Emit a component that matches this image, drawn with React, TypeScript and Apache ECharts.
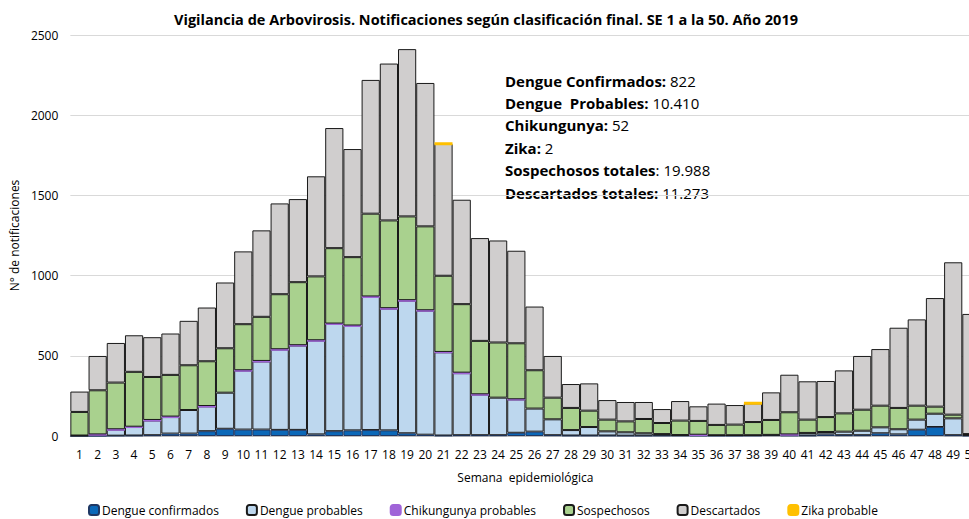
import React, { useEffect, useRef } from "react";
import * as echarts from "echarts";

const weeks = Array.from({ length: 50 }, (_, i) => String(i + 1));

const dengueConfirmados = [
  0, 0, 2, 3, 5, 15, 15, 30, 45, 40,
  40, 38, 38, 10, 30, 35, 37, 35, 17, 8,
  3, 5, 5, 5, 20, 27, 5, 3, 3, 3,
  2, 2, 3, 3, 2, 2, 2, 3, 5, 3,
  3, 10, 5, 5, 17, 10, 39, 56, 5, 2,
];

const dengueProbables = [
  3, 8, 38, 53, 92, 103, 147, 155, 225, 368,
  425, 501, 526, 585, 669, 651, 830, 759, 827, 773,
  519, 387, 253, 234, 208, 144, 99, 34, 53, 26,
  21, 15, 9, 3, 5, 3, 3, 2, 2, 6,
  16, 15, 22, 28, 37, 32, 63, 83, 105, 5,
];

const chikungunya = [
  null, 2, 2, 2, 3, 3, null, 2, null, 2,
  3, 2, 2, 2, 2, 3, 3, 3, 3, 3,
  2, 3, 2, null, 1, null, null, null, null, null,
  null, null, null, null, 1, null, null, null, null, 1,
  null, null, null, null, null, null, null, null, null, null,
];

const sospechosos = [
  147, 275, 291, 342, 268, 260, 279, 279, 277, 287,
  275, 343, 393, 398, 470, 426, 516, 547, 522, 523,
  475, 427, 333, 344, 349, 239, 135, 138, 102, 73,
  68, 89, 69, 90, 86, 64, 66, 82, 93, 138,
  83, 93, 114, 131, 135, 133, 87, 44, 23, 5,
];

const descartados = [
  127, 214, 247, 228, 248, 258, 277, 335, 410, 454,
  539, 566, 518, 624, 749, 674, 834, 978, 1043, 894,
  822, 651, 641, 636, 577, 397, 260, 149, 170, 122,
  121, 106, 87, 122, 91, 133, 122, 117, 172, 234,
  239, 225, 268, 335, 353, 500, 538, 677, 950, 749,
];

const zika = weeks.map((w) => (w === "21" || w === "38" ? 1 : null));

const yTicks = [0, 500, 1000, 1500, 2000, 2500];

const summary = [
  ["Dengue Confirmados:", " 822"],
  ["Dengue  Probables:", " 10.410"],
  ["Chikungunya:", " 52"],
  ["Zika:", " 2"],
  ["Sospechosos totales", ": 19.988"],
  ["Descartados totales:", " 11.273"],
];

const FONT = "'Open Sans', 'Noto Sans', sans-serif";

export default function App() {
  const ref = useRef<HTMLDivElement>(null);

  useEffect(() => {
    if (!ref.current) return;
    const chart = echarts.init(ref.current, null, { renderer: "svg" });
    const border = { borderColor: "#1a1a1a", borderWidth: 1 };
    const barBase = {
      type: "bar" as const,
      stack: "total",
      barCategoryGap: "0%",
      barGap: "0%",
    };
    chart.setOption({
      animation: false,
      textStyle: { fontFamily: FONT },
      title: {
        text: "Vigilancia de Arbovirosis. Notificaciones según clasificación final. SE 1 a la 50. Año 2019",
        left: 481,
        textAlign: "center",
        top: 7,
        textStyle: { fontFamily: FONT, fontWeight: "bold", fontSize: 14.5, color: "#000" },
      },
      grid: { left: 69, top: 35, width: 911.5, height: 401, containLabel: false },
      legend: {
        left: 83,
        top: 499,
        itemWidth: 10,
        itemHeight: 10,
        itemGap: 27,
        icon: "roundRect",
        textStyle: { fontFamily: FONT, fontSize: 12, color: "#000", padding: [0, 0, 0, -2] },
        data: [
          "Dengue confirmados",
          "Dengue probables",
          "Chikungunya probables",
          "Sospechosos",
          "Descartados",
          "Zika probable",
        ],
      },
      xAxis: {
        type: "category",
        data: weeks,
        name: "Semana  epidemiológica",
        nameLocation: "middle",
        nameGap: 35,
        nameTextStyle: { fontFamily: FONT, fontSize: 12, color: "#000" },
        axisTick: { show: false },
        axisLine: { lineStyle: { color: "#bfbfbf" } },
        axisLabel: { interval: 0, margin: 12, fontSize: 12, color: "#000", fontFamily: FONT },
      },
      yAxis: {
        type: "value",
        min: 0,
        max: 2500,
        interval: 500,
        name: "N° de notificaciones",
        nameLocation: "middle",
        nameGap: 42,
        nameTextStyle: { fontFamily: FONT, fontSize: 12, color: "#000" },
        axisLabel: {
          margin: 12,
          fontSize: 12,
          color: "#000",
          fontFamily: FONT,
          formatter: (v: number) => (yTicks.includes(v) ? String(v) : ""),
        },
        splitLine: { lineStyle: { color: "#d9d9d9" } },
      },
      series: [
        {
          ...barBase,
          name: "Dengue confirmados",
          data: dengueConfirmados,
          itemStyle: { color: "#0B68B8", borderColor: "#1F3864", borderWidth: 1 },
        },
        {
          ...barBase,
          name: "Dengue probables",
          data: dengueProbables,
          itemStyle: { color: "#BDD7EE", ...border },
        },
        {
          ...barBase,
          name: "Chikungunya probables",
          data: chikungunya,
          itemStyle: { color: "#A064D8", borderColor: "#A064D8", borderWidth: 2.5 },
        },
        {
          ...barBase,
          name: "Sospechosos",
          data: sospechosos,
          itemStyle: { color: "#A9D18E", ...border },
        },
        {
          ...barBase,
          name: "Descartados",
          data: descartados,
          itemStyle: { color: "#D0CECE", ...border },
        },
        {
          ...barBase,
          name: "Zika probable",
          data: zika,
          itemStyle: { color: "#FFC000", borderColor: "#FFC000", borderWidth: 3 },
        },
      ],
      graphic: summary.map((s, i) => ({
        type: "text",
        left: 505,
        top: 73 + i * 22.4,
        style: {
          text: `{b|${s[0]}}{n|${s[1]}}`,
          rich: {
            b: { fontFamily: FONT, fontWeight: "bold", fontSize: 15, fill: "#000" },
            n: { fontFamily: FONT, fontWeight: "normal", fontSize: 15, fill: "#000" },
          },
        },
      })),
    });
    return () => chart.dispose();
  }, []);

  return (
    <div
      style={{
        position: "fixed",
        left: 0,
        top: 0,
        width: 969,
        height: 519,
        overflow: "hidden",
        background: "#fff",
      }}
    >
      <div ref={ref} style={{ width: 990, height: 519 }} />
    </div>
  );
}
